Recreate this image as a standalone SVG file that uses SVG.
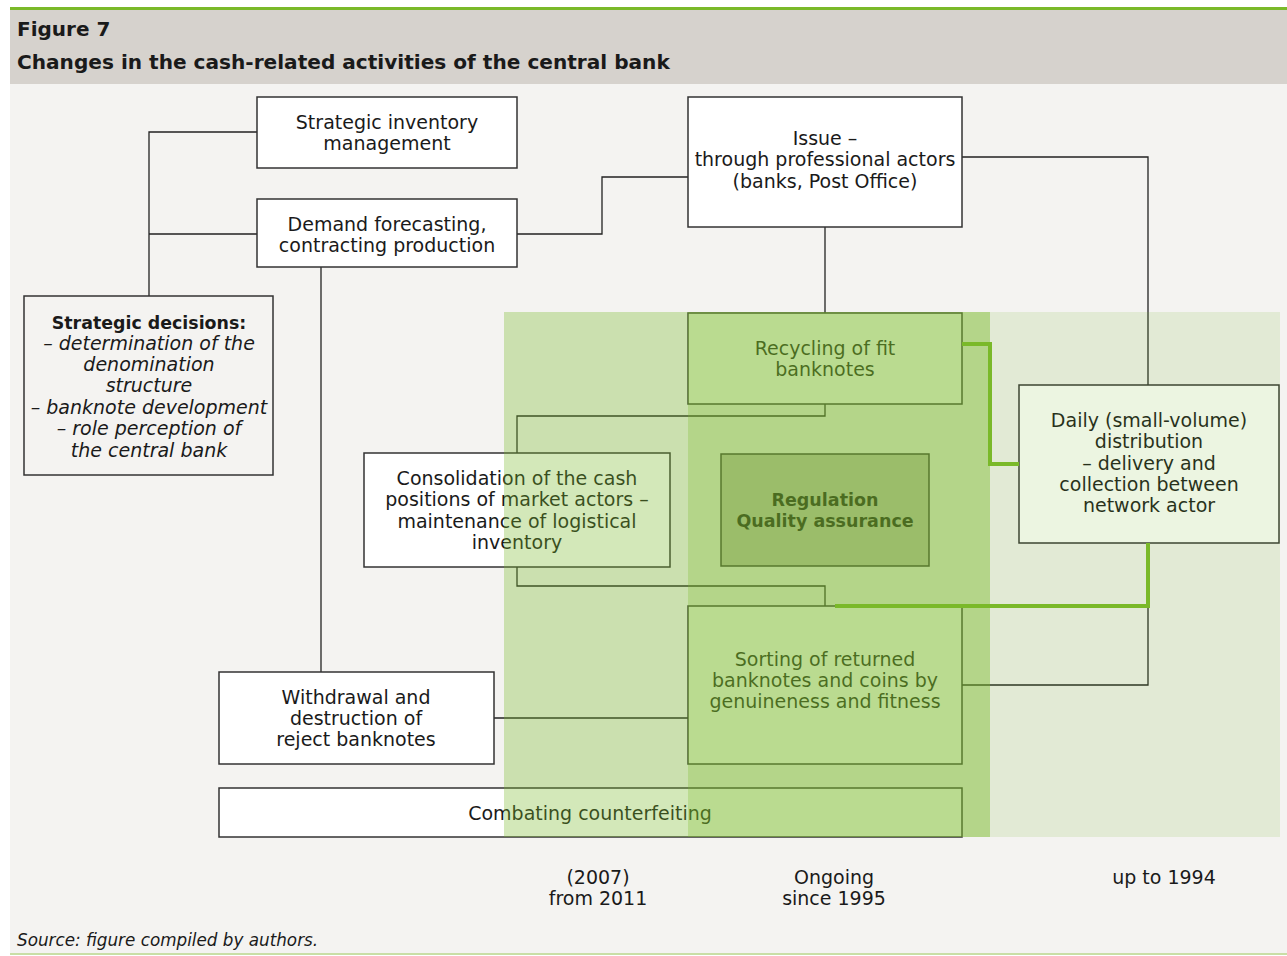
<svg xmlns="http://www.w3.org/2000/svg" width="1287" height="956" viewBox="0 0 1287 956">
<style>
.t{font-family:"DejaVu Sans",Verdana,sans-serif;font-size:19px;fill:#1a1a1a;text-anchor:middle}
.b{font-weight:bold}
.i{font-style:italic}
.box{stroke:#333;stroke-width:1.5;fill:#fff}
.ln{fill:none;stroke:#222;stroke-width:1.3}
.gl{fill:none;stroke:#7ab929;stroke-width:4}
.band{fill:#7ab929}
</style>
<rect x="0" y="0" width="1287" height="956" fill="#fff"/>
<rect x="10" y="7" width="1277" height="3" fill="#7ab929"/>
<rect x="10" y="10" width="1277" height="74" fill="#d6d2cd"/>
<rect x="10" y="84" width="1277" height="869" fill="#f4f3f1"/>
<rect x="10" y="953" width="1277" height="2" fill="#c9dea6"/>
<text x="17" y="36" class="t b" style="text-anchor:start;font-size:20px">Figure 7</text>
<text x="17" y="69" class="t b" style="text-anchor:start;font-size:20.1px">Changes in the cash-related activities of the central bank</text>

<g id="connectors">
<path class="ln" d="M257,132 H149 V296 M257,234 H149"/>
<path class="ln" d="M517,234 H602 V177 H688"/>
<path class="ln" d="M321,267 V672"/>
<path class="ln" d="M825,227 V313"/>
<path class="ln" d="M962,157 H1148 V385"/>
<path class="ln" d="M825,404 V416 H517 V453"/>
<path class="ln" d="M517,567 V586 H825 V606"/>
<path class="ln" d="M494,718 H688"/>
<path class="ln" d="M962,685 H1148 V543"/>
</g>

<g id="n-strategic-inventory">
<rect class="box" x="257" y="97" width="260" height="71"/>
<text class="t" x="387" y="129">Strategic inventory</text>
<text class="t" x="387" y="150">management</text>
</g>
<g id="n-demand">
<rect class="box" x="257" y="199" width="260" height="68"/>
<text class="t" x="387" y="231">Demand forecasting,</text>
<text class="t" x="387" y="252">contracting production</text>
</g>
<g id="n-strategic-decisions">
<rect class="box" x="24" y="296" width="249" height="179" style="fill:#f4f3f1"/>
<text class="t b" x="149" y="329" style="font-size:17.4px">Strategic decisions:</text>
<text class="t i" x="149" y="350">– determination of the</text>
<text class="t i" x="149" y="371">denomination</text>
<text class="t i" x="149" y="392">structure</text>
<text class="t i" x="149" y="414">– banknote development</text>
<text class="t i" x="149" y="435">– role perception of</text>
<text class="t i" x="149" y="457">the central bank</text>
</g>
<g id="n-issue">
<rect class="box" x="688" y="97" width="274" height="130"/>
<text class="t" x="825" y="145">Issue –</text>
<text class="t" x="825" y="166">through professional actors</text>
<text class="t" x="825" y="188">(banks, Post Office)</text>
</g>
<g id="n-recycling">
<rect class="box" x="688" y="313" width="274" height="91"/>
<text class="t" x="825" y="355">Recycling of fit</text>
<text class="t" x="825" y="376">banknotes</text>
</g>
<g id="n-consolidation">
<rect class="box" x="364" y="453" width="306" height="114"/>
<text class="t" x="517" y="485">Consolidation of the cash</text>
<text class="t" x="517" y="506">positions of market actors –</text>
<text class="t" x="517" y="528">maintenance of logistical</text>
<text class="t" x="517" y="549">inventory</text>
</g>
<g id="n-regulation">
<rect class="box" x="721" y="454" width="208" height="112" style="fill:#bfc1b0"/>
<text class="t b" x="825" y="506" style="font-size:17.5px">Regulation</text>
<text class="t b" x="825" y="527" style="font-size:17.5px">Quality assurance</text>
</g>
<g id="n-daily">
<rect class="box" x="1019" y="385" width="260" height="158"/>
<text class="t" x="1149" y="427">Daily (small-volume)</text>
<text class="t" x="1149" y="448">distribution</text>
<text class="t" x="1149" y="470">– delivery and</text>
<text class="t" x="1149" y="491">collection between</text>
<text class="t" x="1149" y="512">network actor</text>
</g>
<g id="n-sorting">
<rect class="box" x="688" y="606" width="274" height="158"/>
<text class="t" x="825" y="666">Sorting of returned</text>
<text class="t" x="825" y="687">banknotes and coins by</text>
<text class="t" x="825" y="708">genuineness and fitness</text>
</g>
<g id="n-withdrawal">
<rect class="box" x="219" y="672" width="275" height="92"/>
<text class="t" x="356" y="704">Withdrawal and</text>
<text class="t" x="356" y="725">destruction of</text>
<text class="t" x="356" y="746">reject banknotes</text>
</g>
<g id="n-combating">
<rect class="box" x="219" y="788" width="743" height="49"/>
<text class="t" x="590" y="820">Combating counterfeiting</text>
</g>

<g id="bands">
<rect class="band" x="504" y="312" width="486" height="525" opacity="0.33"/>
<rect class="band" x="688" y="312" width="302" height="525" opacity="0.28"/>
<rect class="band" x="990" y="312" width="290" height="525" opacity="0.14"/>
</g>

<g id="green-connectors">
<path class="gl" d="M962,344 H990 V464 H1019"/>
<path class="gl" d="M1148,543 V606 H835"/>
</g>

<g id="labels">
<text class="t" x="598" y="884">(2007)</text>
<text class="t" x="598" y="905">from 2011</text>
<text class="t" x="834" y="884">Ongoing</text>
<text class="t" x="834" y="905">since 1995</text>
<text class="t" x="1164" y="884">up to 1994</text>
<text class="t i" x="17" y="946" style="text-anchor:start;font-size:16.8px">Source: figure compiled by authors.</text>
</g>
</svg>
